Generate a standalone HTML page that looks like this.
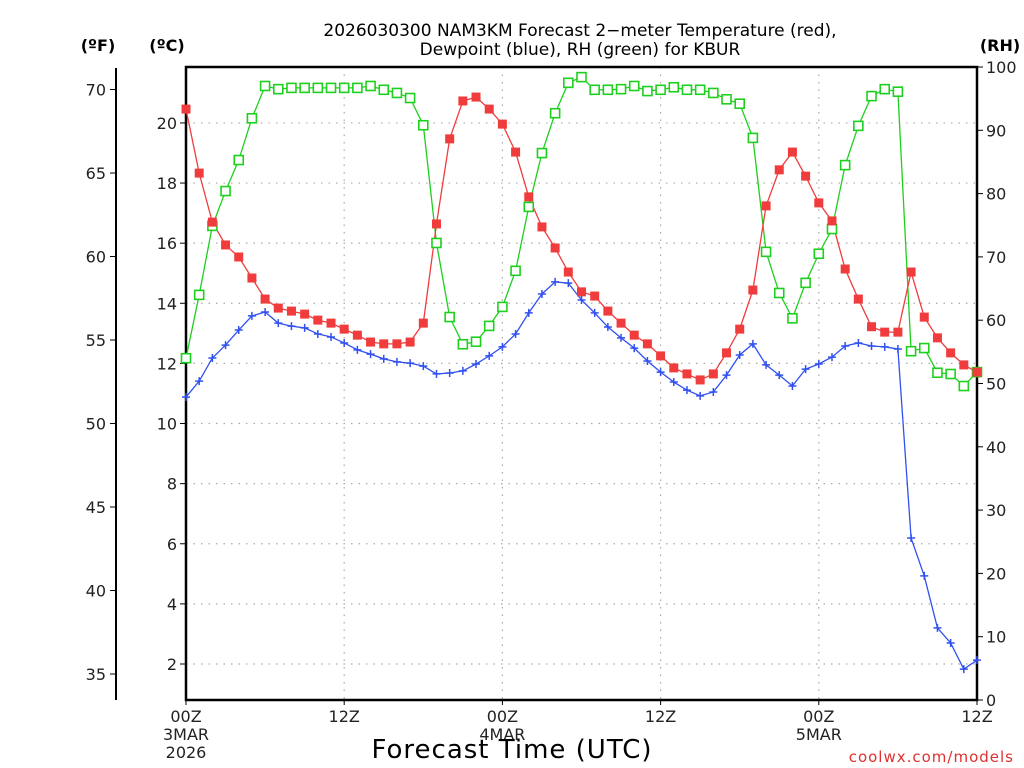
<!DOCTYPE html>
<html><head><meta charset="utf-8"><style>
body{margin:0;background:#fff;}
svg{display:block;font-family:"DejaVu Sans","Liberation Sans",sans-serif;}
</style></head><body>
<svg id="chart" width="1024" height="768" viewBox="0 0 1024 768">
<rect x="0" y="0" width="1024" height="768" fill="#fff"/>
<text x="580" y="36" text-anchor="middle" font-size="17">2026030300 NAM3KM Forecast 2−meter Temperature (red),</text>
<text x="580" y="55" text-anchor="middle" font-size="17">Dewpoint (blue), RH (green) for KBUR</text>
<text x="98" y="51" text-anchor="middle" font-size="16" font-weight="bold">(ºF)</text>
<text x="167" y="51" text-anchor="middle" font-size="16" font-weight="bold">(ºC)</text>
<text x="1000" y="51" text-anchor="middle" font-size="16" font-weight="bold">(RH)</text>
<g id="grid"></g>
<g id="axes"></g>
<g id="series"></g>
<text x="512" y="758" text-anchor="middle" font-size="26" letter-spacing="1">Forecast Time (UTC)</text>
<text x="1014" y="762" text-anchor="end" font-size="15" fill="#e03030" letter-spacing="1">coolwx.com/models</text>
</svg>
<script>
const hours = Array.from({length:61},(_,i)=>i);
const tempC = [20.46,18.33,16.70,15.94,15.54,14.84,14.14,13.84,13.74,13.64,13.44,13.34,13.14,12.94,12.71,12.65,12.65,12.71,13.34,16.64,19.47,20.73,20.86,20.46,19.96,19.03,17.54,16.54,15.84,15.04,14.38,14.24,13.74,13.34,12.94,12.65,12.25,11.85,11.65,11.45,11.65,12.35,13.14,14.44,17.24,18.44,19.03,18.23,17.34,16.74,15.14,14.14,13.22,13.04,13.04,15.04,13.54,12.85,12.35,11.95,11.71];
const dewC = [10.88,11.41,12.18,12.61,13.11,13.58,13.71,13.34,13.24,13.18,12.98,12.88,12.68,12.45,12.31,12.15,12.05,12.01,11.91,11.65,11.68,11.75,11.98,12.25,12.55,12.98,13.68,14.31,14.71,14.67,14.11,13.68,13.21,12.85,12.51,12.08,11.71,11.38,11.11,10.92,11.05,11.61,12.28,12.65,11.95,11.61,11.25,11.81,11.98,12.21,12.58,12.68,12.58,12.55,12.48,6.19,4.93,3.20,2.70,1.83,2.13];
const rh = [54.0,64.0,74.9,80.4,85.3,91.9,97.0,96.5,96.7,96.7,96.7,96.7,96.7,96.7,97.0,96.4,95.9,95.1,90.8,72.2,60.5,56.2,56.6,59.1,62.1,67.8,77.9,86.4,92.7,97.5,98.4,96.4,96.4,96.5,97.0,96.2,96.4,96.8,96.4,96.4,95.9,94.9,94.2,88.8,70.8,64.3,60.3,65.9,70.5,74.4,84.5,90.7,95.4,96.5,96.1,55.1,55.6,51.7,51.5,49.6,51.8];
const cTicks = [2,4,6,8,10,12,14,16,18,20];
const fTicks = [35,40,45,50,55,60,65,70];
const rhTicks = [0,10,20,30,40,50,60,70,80,90,100];
const xTickHours = [0,12,24,36,48,60];
const xTickLabels = ["00Z","12Z","00Z","12Z","00Z","12Z"];
const xDateLabels = {0:["3MAR","2026"],24:["4MAR"],48:["5MAR"]};

const L=186,R=977,T=67,B=700;
const xS=h=>L+(R-L)*h/60;
const yC=c=>664-(c-2)*30.06;
const yF=f=>yC((f-32)*5/9);
const yRH=v=>B-(B-T)*v/100;
const NS="http://www.w3.org/2000/svg";
function mk(tag,attrs,parent){const e=document.createElementNS(NS,tag);for(const k in attrs)e.setAttribute(k,attrs[k]);parent.appendChild(e);return e;}
const grid=document.getElementById('grid'),axes=document.getElementById('axes'),ser=document.getElementById('series');

cTicks.forEach(c=>{
  const g=mk('line',{x1:L,x2:R,y1:yC(c),y2:yC(c),stroke:'#aaa','stroke-width':1.2,'stroke-dasharray':'1.5 6'},grid);
  
  
  const t=mk('line',{x1:L-6,x2:L,y1:yC(c),y2:yC(c),stroke:'#000'},axes);
  
  
  const tx=mk('text',{x:L-9,y:yC(c)+6,'text-anchor':'end','font-size':16,fill:'#222'},axes);
  tx.textContent=c;
  
  
});
xTickHours.forEach((h,i)=>{
  if(h>0&&h<60){
    const g=mk('line',{x1:xS(h),x2:xS(h),y1:T,y2:B,stroke:'#aaa','stroke-width':1.2,'stroke-dasharray':'1.5 6'},grid);
    
    
  }
  const t=mk('line',{x1:xS(h),x2:xS(h),y1:B,y2:B+5,stroke:'#000'},axes);
  
  
  const tx=mk('text',{x:xS(h),y:B+22,'text-anchor':'middle','font-size':16,fill:'#222'},axes);
  tx.textContent=xTickLabels[i];
  
  
  (xDateLabels[h]||[]).forEach((s,j)=>{
    const d=mk('text',{x:xS(h),y:B+40+j*18,'text-anchor':'middle','font-size':16,fill:'#222'},axes);
    d.textContent=s;
    
    
  });
});
const fl=mk('line',{x1:116,x2:116,y1:68,y2:B,stroke:'#000','stroke-width':2},axes);


fTicks.forEach(f=>{
  const t=mk('line',{x1:110,x2:116,y1:yF(f),y2:yF(f),stroke:'#000'},axes);
  
  
  const tx=mk('text',{x:106,y:yF(f)+6,'text-anchor':'end','font-size':16,fill:'#222'},axes);
  tx.textContent=f;
  
  
});
rhTicks.forEach(v=>{
  const t=mk('line',{x1:R,x2:R+6,y1:yRH(v),y2:yRH(v),stroke:'#000'},axes);
  
  
  const tx=mk('text',{x:R+9,y:yRH(v)+6,'text-anchor':'start','font-size':16,fill:'#222'},axes);
  tx.textContent=v;
  
  
});
const fr=mk('rect',{x:L,y:T,width:R-L,height:B-T,fill:'none',stroke:'#000','stroke-width':2.5},axes);



function line(vals,yf,color,name){
  const p=mk('polyline',{points:vals.map((v,i)=>xS(hours[i])+','+yf(v)).join(' '),fill:'none',stroke:color,'stroke-width':1.3},ser);
  
  
}
line(rh,yRH,'#1ed01e','rh-line');
line(tempC,yC,'#f03c3c','temperature-line');
line(dewC,yC,'#3050f0','dewpoint-line');
rh.forEach((v,i)=>{
  const m=mk('rect',{x:xS(hours[i])-4.5,y:yRH(v)-4.5,width:9,height:9,fill:'#fff',stroke:'#1ed01e','stroke-width':1.6},ser);
  
  
});
tempC.forEach((v,i)=>{
  const m=mk('rect',{x:xS(hours[i])-4.5,y:yC(v)-4.5,width:9,height:9,fill:'#f03c3c'},ser);
  
  
});
dewC.forEach((v,i)=>{
  const x=xS(hours[i]),y=yC(v);
  const m=mk('path',{d:`M${x-4},${y}H${x+4}M${x},${y-4}V${y+4}`,stroke:'#3050f0','stroke-width':1.5},ser);
  
  
});
</script>
</body></html>
